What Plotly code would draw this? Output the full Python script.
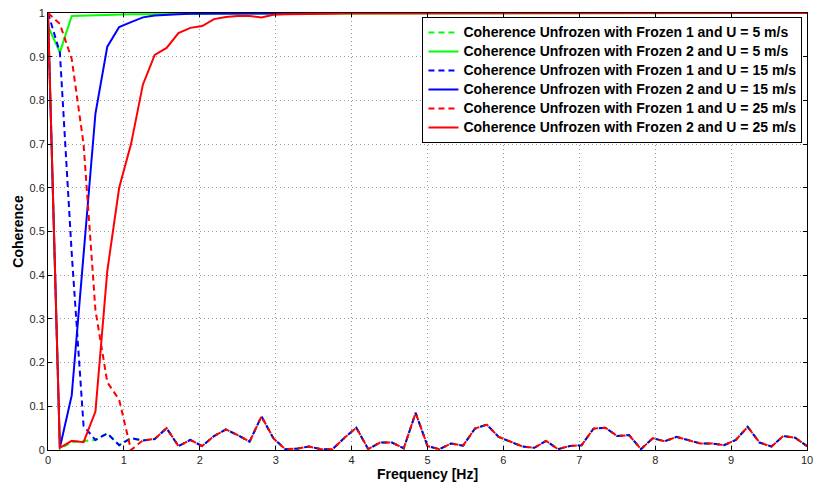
import numpy as np
import plotly.graph_objects as go

# Frequency grid: 65 bins from 0 to 10 Hz
freq = np.linspace(0.0, 10.0, 65)

# Coherence, unfrozen field vs frozen field 1 (dashed) and frozen field 2 (solid)
coh_f1_u5 = [1.0, 0.003, 0.018, 0.02, 0.023, 0.038, 0.011, 0.027,
             0.022, 0.025, 0.05, 0.009, 0.023, 0.009, 0.032, 0.047, 0.034, 0.019,
             0.077, 0.027, 0.002, 0.003, 0.008, 0.002, 0.002, 0.028, 0.051, 0.002,
             0.017, 0.017, 0.004, 0.085, 0.009, 0.002, 0.015, 0.01, 0.049, 0.058,
             0.03, 0.019, 0.008, 0.005, 0.021, 0.002, 0.009, 0.011, 0.049, 0.051,
             0.032, 0.034, 0.002, 0.027, 0.02, 0.03, 0.023, 0.015, 0.015, 0.011,
             0.023, 0.053, 0.017, 0.008, 0.032, 0.028, 0.009]
coh_f2_u5 = [0.97, 0.91, 0.993, 0.994, 0.995, 0.996, 0.996, 0.997,
             0.997, 0.997, 0.998, 0.998, 0.998, 0.998, 0.999, 0.999, 0.999, 0.999,
             0.999, 0.999, 0.999, 0.999, 0.999, 0.999, 0.999, 1.0, 1.0, 1.0,
             1.0, 1.0, 1.0, 1.0, 1.0, 1.0, 1.0, 1.0, 1.0, 1.0,
             1.0, 1.0, 1.0, 1.0, 1.0, 1.0, 1.0, 1.0, 1.0, 1.0,
             1.0, 1.0, 1.0, 1.0, 1.0, 1.0, 1.0, 1.0, 1.0, 1.0,
             1.0, 1.0, 1.0, 1.0, 1.0, 1.0, 1.0]
coh_f1_u15 = [1.0, 0.91, 0.45, 0.055, 0.023, 0.038, 0.011, 0.027,
              0.022, 0.025, 0.05, 0.009, 0.023, 0.009, 0.032, 0.047, 0.034, 0.019,
              0.077, 0.027, 0.002, 0.003, 0.008, 0.002, 0.002, 0.028, 0.051, 0.002,
              0.017, 0.017, 0.004, 0.085, 0.009, 0.002, 0.015, 0.01, 0.049, 0.058,
              0.03, 0.019, 0.008, 0.005, 0.021, 0.002, 0.009, 0.011, 0.049, 0.051,
              0.032, 0.034, 0.002, 0.027, 0.02, 0.03, 0.023, 0.015, 0.015, 0.011,
              0.023, 0.053, 0.017, 0.008, 0.032, 0.028, 0.009]
coh_f2_u15 = [1.0, 0.005, 0.125, 0.45, 0.77, 0.923, 0.968, 0.979,
              0.99, 0.994, 0.996, 0.997, 0.998, 0.998, 0.999, 0.999, 0.999, 0.999,
              0.999, 0.999, 0.999, 1.0, 1.0, 1.0, 1.0, 1.0, 1.0, 1.0,
              1.0, 1.0, 1.0, 1.0, 1.0, 1.0, 1.0, 1.0, 1.0, 1.0,
              1.0, 1.0, 1.0, 1.0, 1.0, 1.0, 1.0, 1.0, 1.0, 1.0,
              1.0, 1.0, 1.0, 1.0, 1.0, 1.0, 1.0, 1.0, 1.0, 1.0,
              1.0, 1.0, 1.0, 1.0, 1.0, 1.0, 1.0]
coh_f1_u25 = [1.0, 0.975, 0.895, 0.70, 0.32, 0.155, 0.115, 0.0,
              0.022, 0.025, 0.05, 0.009, 0.023, 0.009, 0.032, 0.047, 0.034, 0.019,
              0.077, 0.027, 0.002, 0.003, 0.008, 0.002, 0.002, 0.028, 0.051, 0.002,
              0.017, 0.017, 0.004, 0.085, 0.009, 0.002, 0.015, 0.01, 0.049, 0.058,
              0.03, 0.019, 0.008, 0.005, 0.021, 0.002, 0.009, 0.011, 0.049, 0.051,
              0.032, 0.034, 0.002, 0.027, 0.02, 0.03, 0.023, 0.015, 0.015, 0.011,
              0.023, 0.053, 0.017, 0.008, 0.032, 0.028, 0.009]
coh_f2_u25 = [1.0, 0.005, 0.021, 0.018, 0.088, 0.41, 0.60, 0.70,
              0.836, 0.904, 0.92, 0.954, 0.966, 0.97, 0.986, 0.991, 0.993, 0.993,
              0.990, 0.996, 0.997, 0.997, 0.998, 0.998, 0.998, 0.999, 0.999, 0.999,
              0.999, 0.999, 1.0, 1.0, 1.0, 1.0, 1.0, 1.0, 1.0, 1.0,
              1.0, 1.0, 1.0, 1.0, 1.0, 1.0, 1.0, 1.0, 1.0, 1.0,
              1.0, 1.0, 1.0, 1.0, 1.0, 1.0, 1.0, 1.0, 1.0, 1.0,
              1.0, 1.0, 1.0, 1.0, 1.0, 1.0, 1.0]

series_names = [
    "Coherence Unfrozen with Frozen 1 and U = 5 m/s",
    "Coherence Unfrozen with Frozen 2 and U = 5 m/s",
    "Coherence Unfrozen with Frozen 1 and U = 15 m/s",
    "Coherence Unfrozen with Frozen 2 and U = 15 m/s",
    "Coherence Unfrozen with Frozen 1 and U = 25 m/s",
    "Coherence Unfrozen with Frozen 2 and U = 25 m/s",
]
series_values = [coh_f1_u5, coh_f2_u5, coh_f1_u15, coh_f2_u15, coh_f1_u25, coh_f2_u25]
series_colors = ["#00ff00", "#00ff00", "#0000ff", "#0000ff", "#ff0000", "#ff0000"]
series_dash = ["6px,4px", "solid", "6px,4px", "solid", "6px,4px", "solid"]

xticks = list(range(0, 11))
yticks = [round(0.1 * k, 1) for k in range(11)]

fig = go.Figure()
for name, vals, col, dash in zip(series_names, series_values, series_colors, series_dash):
    fig.add_trace(go.Scatter(
        x=freq, y=vals, mode="lines",
        # larger glyphs inside a compact legend row
        name=f'<span style="font-size:14px">{name}</span>',
        line=dict(color=col, width=2, dash=dash),
    ))

axis_common = dict(
    showline=True, linecolor="black", linewidth=1, mirror="ticks",
    ticks="inside", ticklen=4, tickcolor="black",
    showgrid=True, gridcolor="#9a9a9a", griddash="1px,3px", gridwidth=1,
    zeroline=False, ticklabeloverflow="allow",
    tickfont=dict(family="Liberation Sans, Arial", size=11, color="#262626"),
)

fig.update_layout(
    width=818, height=484,
    margin=dict(l=48, r=5, t=13, b=32),
    paper_bgcolor="white", plot_bgcolor="white",
    font=dict(family="Liberation Sans, Arial", color="black"),
    xaxis=dict(range=[0, 10], tickvals=xticks, ticktext=[str(t) for t in xticks],
               title=dict(text="Frequency [Hz]", font=dict(size=14, weight="bold"), standoff=3),
               **axis_common),
    yaxis=dict(range=[0, 1], tickvals=yticks, ticktext=[f"{t:g}" for t in yticks],
               title=dict(text="Coherence", font=dict(size=14, weight="bold"), standoff=2),
               **axis_common),
    legend=dict(
        x=0.994, y=0.991, xanchor="right", yanchor="top",
        bgcolor="white", bordercolor="black", borderwidth=1,
        font=dict(family="Liberation Sans, Arial", size=11.5, weight="bold", color="black"),
        tracegroupgap=0, itemwidth=30,
    ),
    showlegend=True,
)

fig.write_html("out.html")
